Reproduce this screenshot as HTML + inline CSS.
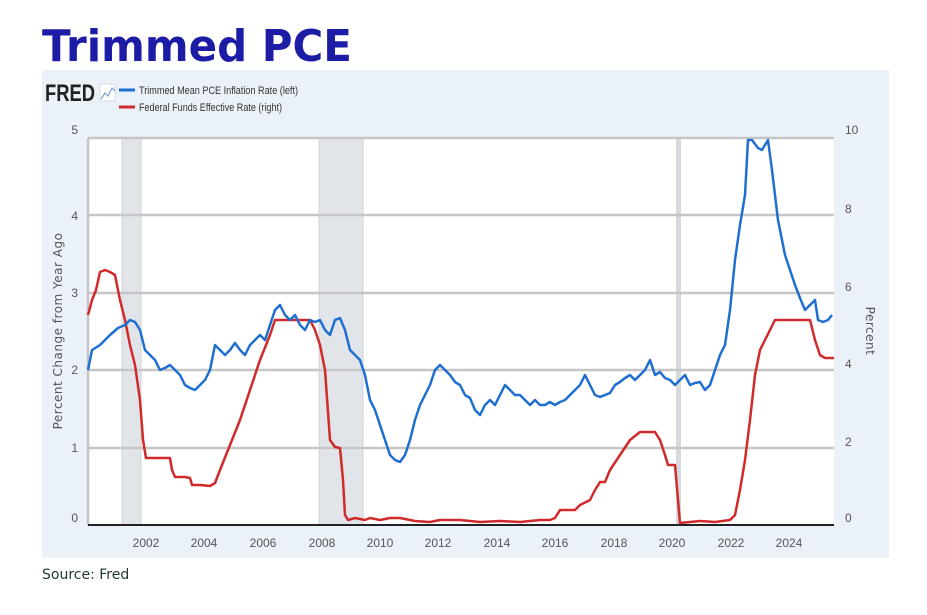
<!DOCTYPE html>
<html><head><meta charset="utf-8"><style>
body{margin:0;width:927px;height:615px;background:#fff;overflow:hidden;font-family:"Liberation Sans",sans-serif}
</style></head><body>
<svg width="927" height="615" xmlns="http://www.w3.org/2000/svg" style="position:absolute;left:0;top:0">
<text x="42" y="61" font-family="DejaVu Sans" font-weight="bold" font-size="44" fill="#1c1ca6" textLength="310" lengthAdjust="spacingAndGlyphs">Trimmed PCE</text>
<rect x="42" y="70" width="847" height="488" fill="#eaf1f9"/>
<rect x="88" y="138" width="746" height="387" fill="#fff"/>
<rect x="122" y="138" width="19" height="387" fill="#e1e5ea" stroke="#cfd3d8" stroke-width="1"/>
<rect x="319" y="138" width="44" height="387" fill="#e1e5ea" stroke="#cfd3d8" stroke-width="1"/>
<rect x="676" y="138" width="5" height="387" fill="#d6dadf"/>
<g stroke="#c6c6c6" stroke-width="2.5">
<line x1="88" y1="138" x2="834" y2="138"/><line x1="88" y1="215" x2="834" y2="215"/>
<line x1="88" y1="293" x2="834" y2="293"/><line x1="88" y1="370" x2="834" y2="370"/>
<line x1="88" y1="448" x2="834" y2="448"/>
<line x1="88" y1="138" x2="88" y2="525"/>
</g>
<line x1="88" y1="525" x2="834" y2="525" stroke="#222" stroke-width="2"/>
<g font-family="Liberation Sans" font-size="12" fill="#555" text-anchor="end">
<text x="78" y="134">5</text><text x="78" y="220">4</text><text x="78" y="297">3</text><text x="78" y="374">2</text><text x="78" y="452">1</text><text x="78" y="522">0</text>
</g>
<g font-family="Liberation Sans" font-size="12" fill="#555">
<text x="845" y="134">10</text><text x="845" y="213">8</text><text x="845" y="291">6</text><text x="845" y="368">4</text><text x="845" y="446">2</text><text x="845" y="522">0</text>
</g>
<g font-family="Liberation Sans" font-size="12" fill="#555" text-anchor="middle">
<text x="146" y="547">2002</text><text x="204" y="547">2004</text><text x="263" y="547">2006</text><text x="322" y="547">2008</text><text x="380" y="547">2010</text><text x="438" y="547">2012</text><text x="497" y="547">2014</text><text x="555" y="547">2016</text><text x="614" y="547">2018</text><text x="672" y="547">2020</text><text x="731" y="547">2022</text><text x="789" y="547">2024</text>
</g>
<text transform="translate(62,331) rotate(-90)" font-family="DejaVu Sans" font-size="12" fill="#555" text-anchor="middle" letter-spacing="0.5">Percent Change from Year Ago</text>
<text transform="translate(866,331) rotate(90)" font-family="DejaVu Sans" font-size="12" fill="#555" text-anchor="middle" letter-spacing="0.5">Percent</text>
<text x="45" y="101" font-family="Liberation Sans" font-weight="bold" font-size="24" fill="#222" textLength="50" lengthAdjust="spacingAndGlyphs">FRED</text>
<rect x="100" y="84" width="15" height="17" fill="#fff" stroke="#c9d4e2" stroke-width="0.8"/>
<polyline points="101,99 105,93 108,96 112,88 115,91" fill="none" stroke="#7aa0d0" stroke-width="1.2"/>
<line x1="119" y1="90" x2="135" y2="90" stroke="#1f6fd1" stroke-width="3"/>
<line x1="119" y1="107" x2="135" y2="107" stroke="#d12a2a" stroke-width="3"/>
<text x="139" y="94" font-family="Liberation Sans" font-size="11" fill="#333" textLength="159" lengthAdjust="spacingAndGlyphs">Trimmed Mean PCE Inflation Rate (left)</text>
<text x="139" y="111" font-family="Liberation Sans" font-size="11" fill="#333" textLength="143" lengthAdjust="spacingAndGlyphs">Federal Funds Effective Rate (right)</text>
<polyline fill="none" stroke="#d12a2a" stroke-width="2.5" stroke-linejoin="round" points="88,315 92,300 96,290 100,272 105,270 110,272 115,275 120,300 125,320 130,345 135,365 140,400 143,440 146,458 150,458 165,458 170,458 172,470 175,477 185,477 190,478 192,485 200,485 210,486 215,483 220,470 230,445 240,420 250,390 260,360 270,335 275,320 280,320 305,320 310,320 315,330 320,345 325,370 330,440 335,447 340,448 343,480 345,515 348,520 355,518 365,520 370,518 380,520 390,518 400,518 415,521 430,522 440,520 460,520 480,522 500,521 520,522 540,520 550,520 555,518 560,510 575,510 580,505 590,500 595,490 600,482 605,482 610,470 620,455 630,440 640,432 645,432 655,432 660,440 665,455 668,465 675,465 678,500 680,523 690,522 700,521 715,522 730,520 735,515 740,490 745,460 750,420 755,375 760,350 765,340 770,330 775,320 800,320 810,320 815,340 820,355 825,358 834,358"/>
<polyline fill="none" stroke="#1f6fd1" stroke-width="2.5" stroke-linejoin="round" points="88,370 92,350 100,345 110,335 118,328 125,325 130,320 135,322 140,330 145,350 150,355 155,360 160,370 165,368 170,365 175,370 180,375 185,385 190,388 195,390 200,385 205,380 210,370 215,345 220,350 225,355 230,350 235,343 240,350 245,355 250,345 255,340 260,335 265,340 270,325 275,310 280,305 285,315 290,320 295,315 300,325 305,330 310,320 315,322 320,320 325,330 330,335 335,320 340,318 345,330 350,350 355,355 360,360 365,375 370,400 375,410 380,425 385,440 390,455 395,460 400,462 405,455 410,440 415,420 420,405 425,395 430,385 435,370 440,365 445,370 450,375 455,382 460,385 465,395 470,398 475,410 480,415 485,405 490,400 495,405 500,395 505,385 510,390 515,395 520,395 525,400 530,405 535,400 540,405 545,405 550,402 555,405 560,402 565,400 570,395 575,390 580,385 585,375 590,385 595,395 600,397 605,395 610,393 615,385 620,382 625,378 630,375 635,380 640,375 645,370 650,360 655,375 660,372 665,378 670,380 675,385 680,380 685,375 690,385 695,383 700,382 705,390 710,385 715,370 720,355 725,345 730,310 735,260 740,225 745,195 748,140 752,140 758,148 762,150 768,140 772,170 778,220 785,255 790,270 795,285 800,298 805,310 810,305 815,300 818,320 823,322 828,320 832,315"/>
<text x="42" y="579" font-family="DejaVu Sans" font-size="14" fill="#1e3a2a">Source: Fred</text>
</svg>
</body></html>
